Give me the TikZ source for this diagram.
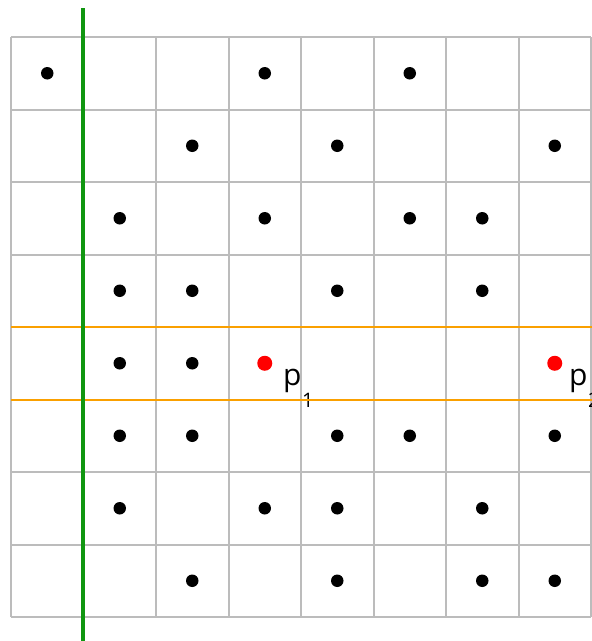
\documentclass[tikz,border=0pt]{standalone}
\usepackage{fontspec}
\setmainfont{Open Sans}
\definecolor{gridgray}{RGB}{188,188,188}
\definecolor{lgreen}{RGB}{16,150,16}
\definecolor{lorange}{RGB}{250,160,0}
\definecolor{pred}{RGB}{255,0,0}
\begin{document}
\begin{tikzpicture}[x=1pt,y=-1pt,
  gridline/.style={draw=gridgray,line width=2pt},
  hline/.style={draw=lorange,line width=2pt},
  vline/.style={draw=lgreen,line width=4pt},
  dot/.style={circle,fill=black,inner sep=0pt,minimum size=12.5pt},
  reddot/.style={circle,fill=pred,inner sep=0pt,minimum size=15pt},
  lbl/.style={font=\fontsize{30}{30}\selectfont,inner sep=0pt,anchor=base west},
  sub/.style={font=\fontsize{20}{20}\selectfont,inner sep=0pt,anchor=base west}]
\useasboundingbox (0,0) rectangle (592,641);
\clip (0,0) rectangle (592,641);
% grid
\foreach \i in {0,...,8}{
  \draw[gridline] ({11+72.5*\i},37) -- ({11+72.5*\i},617);
  \draw[gridline] (11,{37+72.5*\i}) -- (591,{37+72.5*\i});
}
% dots
\foreach \c/\r in {0/0,3/0,5/0,
                   2/1,4/1,7/1,
                   1/2,3/2,5/2,6/2,
                   1/3,2/3,4/3,6/3,
                   1/4,2/4,
                   1/5,2/5,4/5,5/5,7/5,
                   1/6,3/6,4/6,6/6,
                   2/7,4/7,6/7,7/7}{
  \node[dot] (d\c\r) at ({47.25+72.5*\c},{73.25+72.5*\r}) {};
}
% red points
\node[reddot] (r1) at ({47.25+72.5*3},{73.25+72.5*4}) {};
\node[reddot] (r2) at ({47.25+72.5*7},{73.25+72.5*4}) {};
\node[lbl] (p1) at (283,385) {p};
\node[sub] (s1) at (302,407) {1};
\node[lbl] (p2) at (569,385) {p};
\node[sub] (s2) at (588,407) {2};
% orange lines
\draw[hline] (11,327) -- (592,327);
\draw[hline] (11,400) -- (592,400);
% green line
\coordinate (gt) at (82.5,8);
\coordinate (gb) at (82.5,641);
\draw[vline] (gt) -- (gb);
\end{tikzpicture}
\end{document}
